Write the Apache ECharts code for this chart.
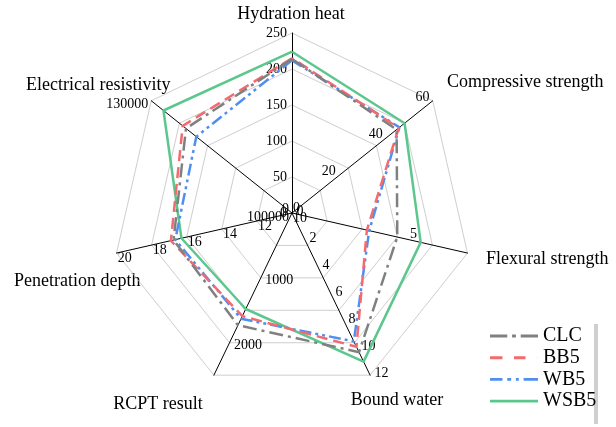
<!DOCTYPE html>
<html>
<head>
<meta charset="utf-8">
<script src="https://cdn.jsdelivr.net/npm/echarts@6/dist/echarts.min.js"></script>
<style>
  html, body { margin: 0; padding: 0; background: #fff; }
  #chart { width: 616px; height: 427px; }
</style>
</head>
<body>
<div id="chart"></div>
<script>
// Indicators, listed clockwise starting from the top axis
const indicatorNames = ['Hydration heat', 'Compressive strength', 'Flexural strength',
  'Bound water', 'RCPT result', 'Penetration depth', 'Electrical resistivity'];
const axisMin = [0, 0, 0, 0, 0, 10, 100000];
const axisMax = [250, 60, 7.5, 12, 2500, 20, 130000];
const axisSplits = [5, 3, 3, 6, 5, 5, 5];
// Tick labels printed on each axis
const hydrationTicks = [0, 50, 100, 150, 200, 250];
const compressiveTicks = [0, 20, 40, 60];
const flexuralTicks = [0, 5];
const boundWaterTicks = [0, 2, 4, 6, 8, 10, 12];
const rcptTicks = [1000, 2000];
const penetrationTicks = [10, 12, 14, 16, 18, 20];
const resistivityTicks = [100000, 130000];
const axisTicks = [hydrationTicks, compressiveTicks, flexuralTicks, boundWaterTicks,
  rcptTicks, penetrationTicks, resistivityTicks];

// Mix results, same order as the indicators
const seriesNames = ['CLC', 'BB5', 'WB5', 'WSB5'];
const clcValues  = [214, 44.6, 4.5, 10.3, 1730, 16.75, 122600];
const bb5Values  = [215, 45.5, 3.2, 9.9, 1590, 16.9, 123300];
const wb5Values  = [212, 45.8, 3.3, 9.5, 1630, 16.65, 120400];
const wsb5Values = [224, 48.0, 5.5, 11.0, 1480, 16.3, 127400];
const seriesValues = [clcValues, bb5Values, wb5Values, wsb5Values];

const seriesColors = ['#808080', '#f26b6f', '#4f8ff2', '#5cc78d'];
const seriesDash = [[14, 5, 3, 5], [11, 6], [12, 4, 3, 4, 3, 4], 'solid'];
const legendIcons = [
  'path://M0,0h18v3h-18z M23,0h4v3h-4z M32,0h18v3h-18z',
  'path://M0,0h13v3h-13z M25,0h12v3h-12z M49.9,0h0.1v3h-0.1z',
  'path://M0,0h13v3h-13z M18,0h4v3h-4z M27,0h3v3h-3z M35,0h15v3h-15z',
  'path://M0,0h50v3h-50z'
];

// ECharts lays radar indicators out counter-clockwise, so reverse all but the first
const order = [0, 6, 5, 4, 3, 2, 1];
const serif = 'Liberation Serif, Times New Roman, serif';

function hasTick(i, v) {
  const tol = (axisMax[i] - axisMin[i]) * 1e-6;
  return axisTicks[i].some(t => Math.abs(t - v) < tol);
}

function buildIndicators(split) {
  return order.map(i => ({
    name: indicatorNames[i],
    min: axisMin[i],
    max: axisMax[i],
    axisLabel: {
      show: axisSplits[i] === split,
      formatter: v => (hasTick(i, v) ? String(v) : '')
    }
  }));
}

const radarCommon = {
  center: [292, 213],
  radius: 180,
  startAngle: 90,
  shape: 'polygon',
  axisName: { show: false },
  splitArea: { show: false },
  axisTick: { show: false },
  axisLabel: {
    show: false,
    fontFamily: serif,
    fontSize: 14,
    color: '#000',
    margin: 5
  }
};

const splitCounts = [5, 3, 6];
const radars = splitCounts.map((split, k) => Object.assign({}, radarCommon, {
  splitNumber: split,
  indicator: buildIndicators(split),
  axisLine: k === 0 ? { show: true, lineStyle: { color: '#000', width: 1 } } : { show: false },
  splitLine: k === 0 ? { show: true, lineStyle: { color: '#c2c2c2', width: 0.8 } } : { show: false }
}));

const series = seriesNames.map((name, s) => ({
  type: 'radar',
  name: name,
  radarIndex: 0,
  symbol: 'none',
  silent: true,
  z: 10 - s,
  itemStyle: { color: seriesColors[s] },
  lineStyle: { color: seriesColors[s], width: 2.5, type: seriesDash[s], cap: 'butt' },
  data: [{ name: name, value: order.map(i => seriesValues[s][i]) }]
}));

const nameLabels = [
  { text: indicatorNames[0], x: 291, y: 14, align: 'center' },
  { text: indicatorNames[1], x: 447, y: 82, align: 'left' },
  { text: indicatorNames[2], x: 486, y: 259, align: 'left' },
  { text: indicatorNames[3], x: 397, y: 400, align: 'center' },
  { text: indicatorNames[4], x: 158, y: 404, align: 'center' },
  { text: indicatorNames[5], x: 14, y: 281, align: 'left' },
  { text: indicatorNames[6], x: 26, y: 85, align: 'left' }
];

const chart = echarts.init(document.getElementById('chart'), null, { renderer: 'canvas' });
chart.setOption({
  backgroundColor: '#fff',
  animation: false,
  radar: radars,
  series: series,
  legend: {
    orient: 'vertical',
    left: 485,
    top: 321,
    itemWidth: 48,
    itemHeight: 3,
    itemGap: 1.7,
    selectedMode: false,
    itemStyle: { borderWidth: 0 },
    textStyle: { fontFamily: serif, fontSize: 20, color: '#000', lineHeight: 20 },
    data: seriesNames.map((n, s) => ({ name: n, icon: legendIcons[s] }))
  },
  graphic: [
    {
      type: 'rect',
      shape: { x: 594, y: 324, width: 4, height: 100 },
      style: { fill: '#cfcfcf' },
      silent: true
    }
  ].concat(nameLabels.map(l => ({
    type: 'text',
    x: l.x,
    y: l.y,
    silent: true,
    style: {
      text: l.text,
      fill: '#000',
      font: '18px ' + serif,
      textAlign: l.align,
      textVerticalAlign: 'middle'
    }
  })))
});
</script>
</body>
</html>
